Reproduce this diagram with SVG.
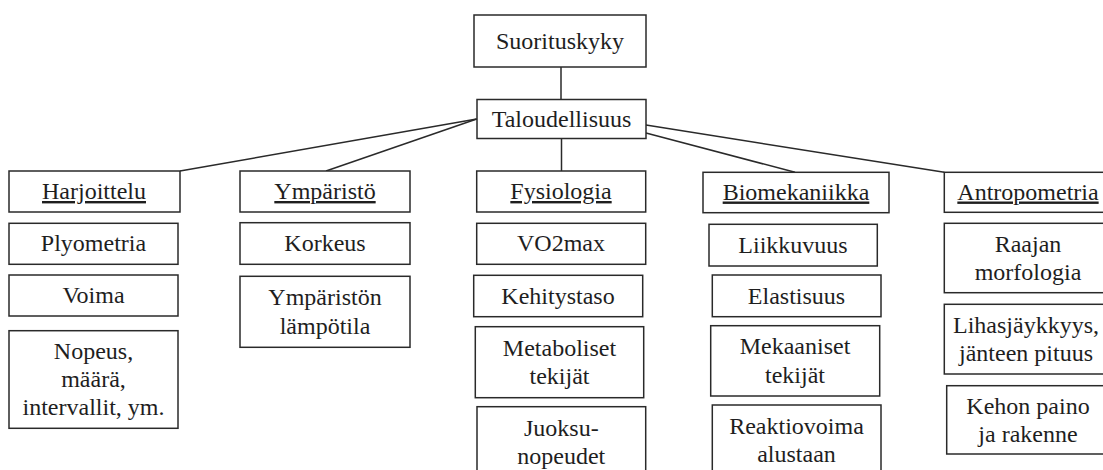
<svg xmlns="http://www.w3.org/2000/svg" width="1103" height="470" viewBox="0 0 1103 470">
<rect x="0" y="0" width="1103" height="470" fill="#ffffff"/>
<g id="connectors" stroke="#2a2a2a" stroke-width="1.5">
<line x1="561" y1="67" x2="561" y2="99.5"/>
<line x1="561.5" y1="139" x2="561.5" y2="171"/>
<line x1="476.7" y1="119" x2="180" y2="171"/>
<line x1="476.7" y1="119" x2="326" y2="171"/>
<line x1="646" y1="125" x2="944.3" y2="172.3"/>
<line x1="646" y1="133" x2="795" y2="172.3"/>
</g>
<g id="nodes" font-size="24" text-anchor="middle">
<g fill="#ffffff" stroke="#2a2a2a" stroke-width="1.5">
<rect id="r-suorituskyky" x="474" y="15" width="172" height="52"/>
<rect id="r-taloudellisuus" x="477" y="99.5" width="169" height="39"/>
<rect id="r-harjoittelu" x="9" y="171" width="171" height="41"/>
<rect id="r-plyometria" x="9" y="223.3" width="169" height="41"/>
<rect id="r-voima" x="9" y="275" width="169" height="41"/>
<rect id="r-nopeus" x="9" y="330.7" width="169" height="97.6"/>
<rect id="r-ymparisto" x="240" y="171" width="170" height="41"/>
<rect id="r-korkeus" x="240" y="222.7" width="170" height="41.6"/>
<rect id="r-lampotila" x="240" y="276.3" width="170" height="71"/>
<rect id="r-fysiologia" x="476.7" y="171" width="169" height="41"/>
<rect id="r-vo2max" x="476.7" y="223.3" width="169" height="41"/>
<rect id="r-kehitystaso" x="473.7" y="275.3" width="169" height="41.4"/>
<rect id="r-metaboliset" x="475.3" y="326.7" width="168.4" height="71"/>
<rect id="r-juoksunopeudet" x="477" y="406.7" width="168.7" height="72"/>
<rect id="r-biomekaniikka" x="703" y="172.3" width="186" height="40.4"/>
<rect id="r-liikkuvuus" x="709" y="224.3" width="168.3" height="41.7"/>
<rect id="r-elastisuus" x="712.3" y="275" width="168.7" height="41.7"/>
<rect id="r-mekaaniset" x="710.7" y="325.7" width="169" height="70.3"/>
<rect id="r-reaktiovoima" x="712.3" y="405" width="168.7" height="72"/>
<rect id="r-antropometria" x="944.3" y="172.3" width="170" height="40"/>
<rect id="r-raajan" x="944.3" y="223.3" width="170" height="69.4"/>
<rect id="r-lihas" x="944.3" y="304.3" width="170" height="69.7"/>
<rect id="r-kehon" x="946.7" y="385.7" width="170" height="68.3"/>
</g>
<g fill="#1e1e1e">
<g id="suorituskyky"><text font-family="Liberation Serif" x="560" y="49">Suorituskyky</text></g>
<g id="taloudellisuus"><text font-family="Liberation Serif" x="561.5" y="126.5">Taloudellisuus</text></g>
<g id="harjoittelu"><text font-family="Liberation Serif" text-decoration="underline" x="94" y="199">Harjoittelu</text></g>
<g id="plyometria"><text font-family="Liberation Serif" x="93.5" y="251">Plyometria</text></g>
<g id="voima"><text font-family="Liberation Serif" x="93.5" y="303">Voima</text></g>
<g id="nopeus"><text font-family="Liberation Serif" x="93.5" y="359">Nopeus,</text><text font-family="Liberation Serif" x="93.5" y="387">määrä,</text><text font-family="Liberation Serif" x="93.5" y="415">intervallit, ym.</text></g>
<g id="ymparisto"><text font-family="Liberation Serif" text-decoration="underline" x="325" y="199">Ympäristö</text></g>
<g id="korkeus"><text font-family="Liberation Serif" x="325" y="251">Korkeus</text></g>
<g id="lampotila"><text font-family="Liberation Serif" x="325" y="305">Ympäristön</text><text font-family="Liberation Serif" x="325" y="333.5">lämpötila</text></g>
<g id="fysiologia"><text font-family="Liberation Serif" text-decoration="underline" x="561" y="199">Fysiologia</text></g>
<g id="vo2max"><text font-family="Liberation Serif" x="561" y="251">VO2max</text></g>
<g id="kehitystaso"><text font-family="Liberation Serif" x="558" y="303.5">Kehitystaso</text></g>
<g id="metaboliset"><text font-family="Liberation Serif" x="559.5" y="355.5">Metaboliset</text><text font-family="Liberation Serif" x="559.5" y="384">tekijät</text></g>
<g id="juoksunopeudet"><text font-family="Liberation Serif" x="561.3" y="435.5">Juoksu-</text><text font-family="Liberation Serif" x="561.3" y="464">nopeudet</text></g>
<g id="biomekaniikka"><text font-family="Liberation Serif" text-decoration="underline" x="796" y="199.5">Biomekaniikka</text></g>
<g id="liikkuvuus"><text font-family="Liberation Serif" x="793" y="252.5">Liikkuvuus</text></g>
<g id="elastisuus"><text font-family="Liberation Serif" x="796.5" y="303.5">Elastisuus</text></g>
<g id="mekaaniset"><text font-family="Liberation Serif" x="795" y="354">Mekaaniset</text><text font-family="Liberation Serif" x="795" y="382.5">tekijät</text></g>
<g id="reaktiovoima"><text font-family="Liberation Serif" x="796.5" y="433.5">Reaktiovoima</text><text font-family="Liberation Serif" x="796.5" y="462">alustaan</text></g>
<g id="antropometria"><text font-family="Liberation Serif" text-decoration="underline" x="1028" y="199.5">Antropometria</text></g>
<g id="raajan"><text font-family="Liberation Serif" x="1028" y="251.5">Raajan</text><text font-family="Liberation Serif" x="1028" y="280">morfologia</text></g>
<g id="lihas"><text font-family="Liberation Serif" x="1026" y="332.5">Lihasjäykkyys,</text><text font-family="Liberation Serif" x="1026" y="361">jänteen pituus</text></g>
<g id="kehon"><text font-family="Liberation Serif" x="1028" y="413.5">Kehon paino</text><text font-family="Liberation Serif" x="1028" y="442">ja rakenne</text></g>
</g>
</g>
</svg>
